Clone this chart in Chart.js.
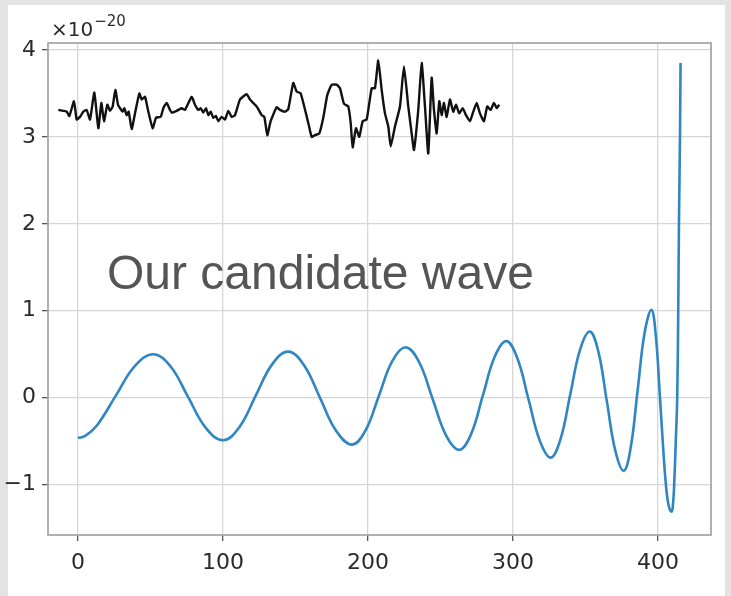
<!DOCTYPE html>
<html>
<head>
<meta charset="utf-8">
<script src="https://cdn.jsdelivr.net/npm/chart.js@4/dist/chart.umd.min.js"></script>
<style>
html,body{margin:0;padding:0;background:#e3e3e3;}
canvas{display:block;}
</style>
</head>
<body>
<canvas id="c" width="731" height="596"></canvas>
<script>
// ---- data (values in units of 1e-20) ----
const xTicks = [0, 100, 200, 300, 400];
const yTicks = [-1, 0, 1, 2, 3, 4];
const exponentLabel = ['×10', '−20'];
const annotationText = 'Our candidate wave';

// candidate (template) wave
const waveX = [0, 5, 13, 26, 39, 52, 64, 76, 88, 100, 111.25, 122.5, 133.75, 145, 156, 167, 178, 189,
  198.25, 207.5, 216.75, 226, 235.25, 244.5, 253.75, 263, 271.1, 279.25, 287.4, 295.5, 303.1, 310.75,
  318.4, 326, 332.75, 339.5, 346.25, 353, 358.9, 364.75, 370.6, 376.5, 381.25, 386, 390.75, 395.5,
  398.5, 401.4, 403.5, 405.5, 407.5, 409.5, 410.5, 411.2, 412.3, 413.3, 414.0, 414.5, 415.2, 415.6];
const waveY = [-0.465, -0.44, -0.32, 0.02, 0.36, 0.50, 0.355, 0.005, -0.345, -0.49, -0.34, 0.02, 0.38, 0.53,
  0.37, -0.005, -0.38, -0.54, -0.38, 0.02, 0.42, 0.58, 0.41, -0.01, -0.43, -0.60, -0.42, 0.025, 0.47,
  0.65, 0.45, -0.02, -0.49, -0.69, -0.48, 0.035, 0.55, 0.76, 0.53, -0.04, -0.61, -0.84, -0.57, 0.085,
  0.74, 1.01, 0.72, 0.0, -0.55, -1.0, -1.25, -1.31, -1.2, -1.0, -0.5, 0.0, 1.0, 2.0, 3.0, 3.85];

// observed (noisy) signal
const signalX = [-13.56, -10.11, -7.82, -5.98, -2.76, -0.92, 1.38, 3.68, 5.98, 8.28, 11.26, 14.02, 16.09,
  17.93, 20.23, 22.07, 23.91, 25.75, 27.59, 28.97, 30.80, 31.95, 33.56, 34.94, 37.01, 39.31, 42.30, 43.91,
  46.21, 48.51, 51.49, 53.79, 57.01, 58.85, 61.15, 63.45, 64.60, 68.05, 71.49, 73.79, 78.39, 80.69, 82.99,
  84.60, 86.44, 88.28, 89.89, 91.49, 93.33, 95.17, 96.78, 99.08, 101.38, 103.68, 105.98, 108.28, 111.72,
  116.32, 118.62, 123.22, 126.67, 128.51, 130.57, 132.87, 137.03, 139.31, 142.76, 145.03, 148.48, 150.83,
  153.59, 158.83, 161.17, 163.45, 166.41, 169.17, 171.93, 174.97, 178.41, 180.69, 183.45, 186.41, 188.07,
  189.45, 191.72, 194.00, 196.34, 199.10, 202.55, 204.83, 207.10, 209.45, 211.72, 214.00, 215.66, 218.62,
  222.07, 224.83, 227.79, 230.14, 231.72, 234.69, 237.03, 239.31, 241.59, 243.93, 245.52, 247.38, 249.17,
  250.83, 252.41, 254.28, 256.55, 258.83, 260.69, 262.97, 265.31, 267.59, 270.34, 272.62, 274.97, 277.24,
  280.00, 282.28, 284.62, 286.90, 288.76, 290.55];
const signalY = [3.31, 3.30, 3.29, 3.24, 3.41, 3.20, 3.23, 3.29, 3.31, 3.20, 3.51, 3.10, 3.39,
  3.18, 3.37, 3.30, 3.35, 3.54, 3.37, 3.33, 3.29, 3.33, 3.25, 3.29, 3.09, 3.27, 3.50, 3.43,
  3.46, 3.29, 3.10, 3.22, 3.23, 3.33, 3.39, 3.31, 3.28, 3.30, 3.33, 3.31, 3.46, 3.37, 3.31,
  3.33, 3.28, 3.33, 3.25, 3.29, 3.22, 3.24, 3.18, 3.23, 3.20, 3.30, 3.23, 3.25, 3.43,
  3.49, 3.43, 3.35, 3.25, 3.23, 3.02, 3.18, 3.34, 3.31, 3.29, 3.32, 3.62, 3.52,
  3.50, 3.16, 3.00, 3.02, 3.04, 3.22, 3.48, 3.60, 3.60, 3.56, 3.38, 3.35, 3.16,
  2.88, 3.10, 3.00, 3.18, 3.20, 3.56, 3.56, 3.88, 3.54, 3.27, 3.12, 2.89, 3.12,
  3.35, 3.81, 3.35, 3.04, 2.85, 3.31, 3.85, 3.35, 2.81, 3.68, 3.31, 3.04, 3.41,
  3.25, 3.39, 3.23, 3.43, 3.29, 3.37, 3.27, 3.33, 3.25, 3.18, 3.29, 3.39, 3.27,
  3.18, 3.35, 3.31, 3.39, 3.33, 3.37];

const xRange = [-20.7, 436.6];
const yRange = [-1.58, 4.08];

// ---- chart ----
const toPts = (xs, ys) => xs.map((x, i) => ({x: x, y: ys[i]}));
const tickFont = {family: 'DejaVu Sans', size: 22};

const decor = {
  id: 'decor',
  beforeDraw(chart) {
    const ctx = chart.ctx;
    ctx.save();
    ctx.fillStyle = '#e3e3e3';
    ctx.fillRect(0, 0, chart.width, chart.height);
    ctx.fillStyle = '#ffffff';
    ctx.fillRect(8, 5, 717, 591);
    ctx.restore();
  },
  afterDraw(chart) {
    const ctx = chart.ctx;
    const a = chart.chartArea;
    ctx.save();
    ctx.strokeStyle = '#a8a8a8';
    ctx.lineWidth = 1.8;
    ctx.strokeRect(a.left, a.top, a.right - a.left, a.bottom - a.top);
    // exponent label
    ctx.fillStyle = '#2a2a2a';
    ctx.textBaseline = 'alphabetic';
    ctx.font = '20px "DejaVu Sans"';
    ctx.fillText(exponentLabel[0], 51, 36);
    const w = ctx.measureText(exponentLabel[0]).width;
    ctx.font = '15px "DejaVu Sans"';
    ctx.fillText(exponentLabel[1], 51 + w + 1, 26);
    // annotation
    ctx.fillStyle = '#555555';
    ctx.font = '48px "Liberation Sans"';
    ctx.fillText(annotationText, 107, 289);
    ctx.restore();
  }
};

new Chart(document.getElementById('c'), {
  type: 'scatter',
  data: {
    datasets: [
      {
        data: toPts(signalX, signalY),
        showLine: true,
        borderColor: '#111111',
        borderWidth: 2.4,
        borderJoinStyle: 'round',
        pointRadius: 0,
        tension: 0.15
      },
      {
        data: toPts(waveX, waveY),
        showLine: true,
        borderColor: '#2f86c3',
        borderWidth: 2.6,
        pointRadius: 0,
        tension: 0.4
      }
    ]
  },
  options: {
    responsive: false,
    animation: false,
    devicePixelRatio: 1,
    layout: {padding: {top: 43, right: 20, left: 0, bottom: 0}},
    plugins: {legend: {display: false}, tooltip: {enabled: false}},
    scales: {
      x: {
        type: 'linear',
        min: xRange[0], max: xRange[1],
        afterFit: s => { s.height = 61; },
        afterBuildTicks: s => { s.ticks = xTicks.map(v => ({value: v})); },
        grid: {color: '#d6d6d6', lineWidth: 1.3, tickColor: '#555', tickLength: 6},
        border: {display: false},
        ticks: {font: tickFont, color: '#2a2a2a', padding: 9, maxRotation: 0,
                callback: v => String(v)}
      },
      y: {
        type: 'linear',
        min: yRange[0], max: yRange[1],
        afterFit: s => { s.width = 48; },
        afterBuildTicks: s => { s.ticks = yTicks.map(v => ({value: v})); },
        grid: {color: '#d6d6d6', lineWidth: 1.3, tickColor: '#555', tickLength: 6},
        border: {display: false},
        ticks: {font: tickFont, color: '#2a2a2a', padding: 6,
                callback: v => (v < 0 ? '−' + Math.abs(v) : String(v))}
      }
    }
  },
  plugins: [decor]
});
</script>
</body>
</html>
